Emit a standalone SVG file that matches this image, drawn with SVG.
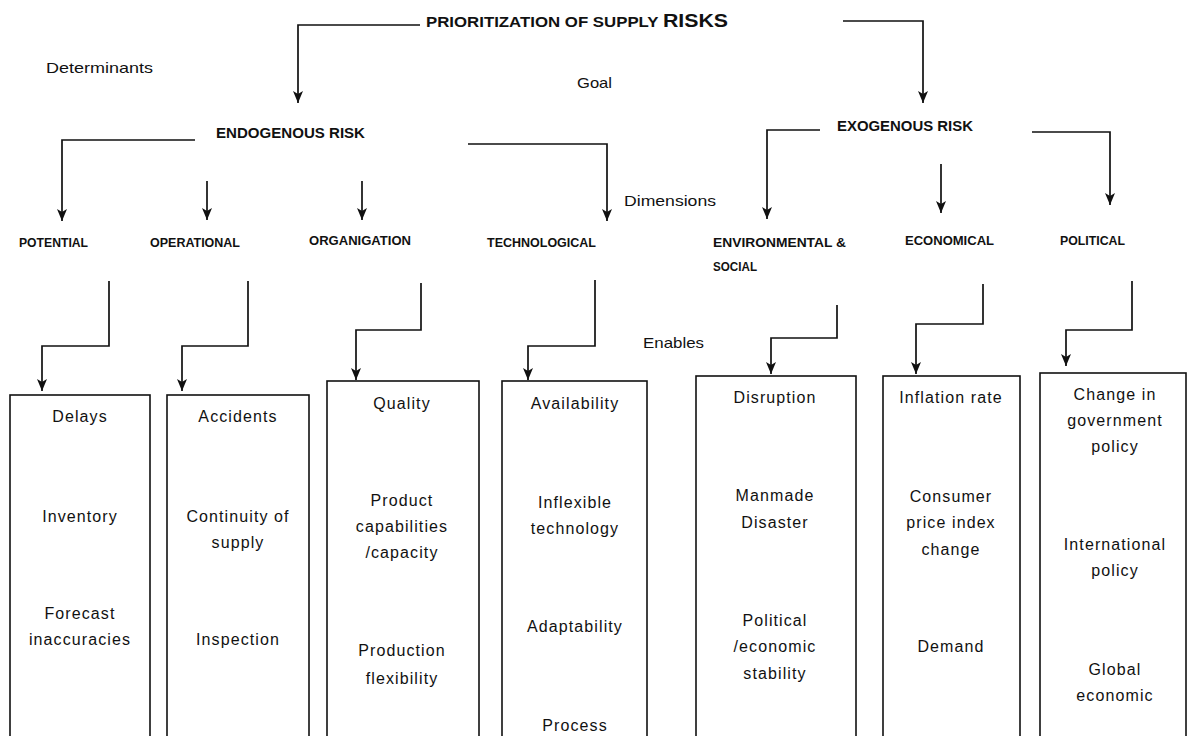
<svg xmlns="http://www.w3.org/2000/svg" width="1188" height="736" viewBox="0 0 1188 736">
<defs>
<marker id="arr" viewBox="0 0 12 10" refX="12" refY="5" markerWidth="12" markerHeight="11" markerUnits="userSpaceOnUse" orient="auto">
<path d="M0,0 L12,5 L0,10 L3,5 z" fill="#111"/>
</marker>
<style>
.c{fill:none;stroke:#111;stroke-width:1.7;marker-end:url(#arr)}
.b{fill:#fff;stroke:#111;stroke-width:1.6}
.t{font-family:"Liberation Sans",Arial,sans-serif;font-size:16px;letter-spacing:1.1px;fill:#111;text-anchor:middle}
.l{font-family:"Liberation Sans",Arial,sans-serif;font-size:15px;fill:#111}
.h{font-family:"Liberation Sans",Arial,sans-serif;font-weight:bold;font-size:13px;fill:#111}
.k{font-family:"Liberation Sans",Arial,sans-serif;font-weight:bold;font-size:15px;fill:#111}
</style>
</defs>
<rect width="1188" height="736" fill="#fff"/>

<g id="connectors">
<polyline class="c" points="420,25 298,25 298,103"/>
<polyline class="c" points="843,21 923,21 923,103"/>
<polyline class="c" points="195,140 62,140 62,221"/>
<polyline class="c" points="207,181 207,220"/>
<polyline class="c" points="362,181 362,220"/>
<polyline class="c" points="468,144 607,144 607,221"/>
<polyline class="c" points="820,130 767,130 767,219"/>
<polyline class="c" points="941,164 941,213"/>
<polyline class="c" points="1032,132 1110,132 1110,205"/>
<polyline class="c" points="109,281 109,346 42,346 42,391"/>
<polyline class="c" points="248,281 248,346 182,346 182,391"/>
<polyline class="c" points="421,283 421,330 356,330 356,380"/>
<polyline class="c" points="595,280 595,346 528,346 528,380"/>
<polyline class="c" points="837,305 837,338 771,338 771,374"/>
<polyline class="c" points="983,284 983,324 916,324 916,374"/>
<polyline class="c" points="1132,281 1132,330 1066,330 1066,366"/>
</g>

<g id="title"><text class="k" x="426" y="27" font-size="16" textLength="302" lengthAdjust="spacingAndGlyphs">PRIORITIZATION OF SUPPLY <tspan font-size="19">RISKS</tspan></text></g>
<g id="label-determinants"><text class="l" x="46" y="73" textLength="107" lengthAdjust="spacingAndGlyphs">Determinants</text></g>
<g id="label-goal"><text class="l" x="577" y="88" textLength="35" lengthAdjust="spacingAndGlyphs">Goal</text></g>
<g id="label-dimensions"><text class="l" x="624" y="206" textLength="92" lengthAdjust="spacingAndGlyphs">Dimensions</text></g>
<g id="label-enables"><text class="l" x="643" y="348" textLength="61" lengthAdjust="spacingAndGlyphs">Enables</text></g>

<g id="endogenous"><text class="k" x="216" y="138" textLength="149" lengthAdjust="spacingAndGlyphs">ENDOGENOUS RISK</text></g>
<g id="exogenous"><text class="k" x="837" y="131" textLength="136" lengthAdjust="spacingAndGlyphs">EXOGENOUS RISK</text></g>

<g id="potential"><text class="h" x="19" y="247" textLength="69" lengthAdjust="spacingAndGlyphs">POTENTIAL</text></g>
<g id="operational"><text class="h" x="150" y="247" textLength="90" lengthAdjust="spacingAndGlyphs">OPERATIONAL</text></g>
<g id="organigation"><text class="h" x="309" y="245" textLength="102" lengthAdjust="spacingAndGlyphs">ORGANIGATION</text></g>
<g id="technological"><text class="h" x="487" y="247" textLength="109" lengthAdjust="spacingAndGlyphs">TECHNOLOGICAL</text></g>
<g id="environmental"><text class="h" x="713" y="247" textLength="133" lengthAdjust="spacingAndGlyphs">ENVIRONMENTAL  &amp;</text><text class="h" x="713" y="271" textLength="44" lengthAdjust="spacingAndGlyphs">SOCIAL</text></g>
<g id="economical"><text class="h" x="905" y="245" textLength="89" lengthAdjust="spacingAndGlyphs">ECONOMICAL</text></g>
<g id="political"><text class="h" x="1060" y="245" textLength="65" lengthAdjust="spacingAndGlyphs">POLITICAL</text></g>

<g id="box-potential">
<rect class="b" x="10" y="395" width="140" height="350"/>
<text class="t" x="80" y="422">Delays</text>
<text class="t" x="80" y="522">Inventory</text>
<text class="t" x="80" y="619">Forecast</text>
<text class="t" x="80" y="645">inaccuracies</text>
</g>
<g id="box-operational">
<rect class="b" x="167" y="395" width="142" height="350"/>
<text class="t" x="238" y="422">Accidents</text>
<text class="t" x="238" y="522">Continuity of</text>
<text class="t" x="238" y="548">supply</text>
<text class="t" x="238" y="645">Inspection</text>
</g>
<g id="box-organigation">
<rect class="b" x="327" y="381" width="152" height="364"/>
<text class="t" x="402" y="409">Quality</text>
<text class="t" x="402" y="506">Product</text>
<text class="t" x="402" y="532">capabilities</text>
<text class="t" x="402" y="558">/capacity</text>
<text class="t" x="402" y="656">Production</text>
<text class="t" x="402" y="684">flexibility</text>
</g>
<g id="box-technological">
<rect class="b" x="502" y="381" width="145" height="364"/>
<text class="t" x="575" y="409">Availability</text>
<text class="t" x="575" y="508">Inflexible</text>
<text class="t" x="575" y="534">technology</text>
<text class="t" x="575" y="632">Adaptability</text>
<text class="t" x="575" y="731">Process</text>
</g>
<g id="box-environmental">
<rect class="b" x="696" y="376" width="160" height="369"/>
<text class="t" x="775" y="403">Disruption</text>
<text class="t" x="775" y="501">Manmade</text>
<text class="t" x="775" y="528">Disaster</text>
<text class="t" x="775" y="626">Political</text>
<text class="t" x="775" y="652">/economic</text>
<text class="t" x="775" y="679">stability</text>
</g>
<g id="box-economical">
<rect class="b" x="883" y="376" width="137" height="369"/>
<text class="t" x="951" y="403">Inflation rate</text>
<text class="t" x="951" y="502">Consumer</text>
<text class="t" x="951" y="528">price index</text>
<text class="t" x="951" y="555">change</text>
<text class="t" x="951" y="652">Demand</text>
</g>
<g id="box-political">
<rect class="b" x="1040" y="373" width="146" height="372"/>
<text class="t" x="1115" y="400">Change in</text>
<text class="t" x="1115" y="426">government</text>
<text class="t" x="1115" y="452">policy</text>
<text class="t" x="1115" y="550">International</text>
<text class="t" x="1115" y="576">policy</text>
<text class="t" x="1115" y="675">Global</text>
<text class="t" x="1115" y="701">economic</text>
</g>
</svg>
